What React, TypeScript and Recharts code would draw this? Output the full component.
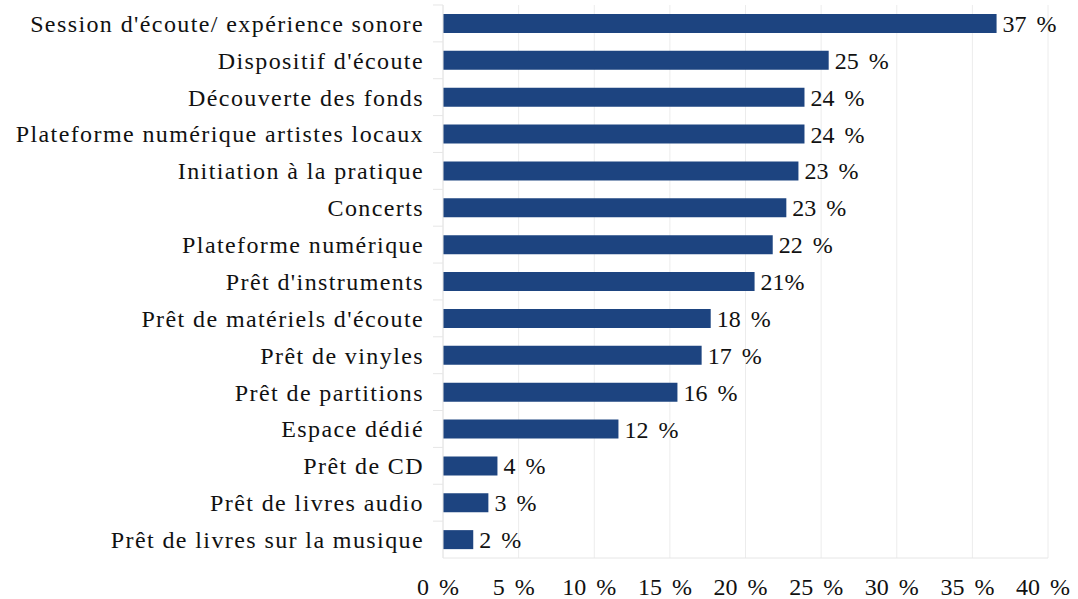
import { Bar, BarChart, CartesianGrid, LabelList, XAxis, YAxis } from "recharts";

const categories = [
  "Session d'écoute/ expérience sonore",
  "Dispositif d'écoute",
  "Découverte des fonds",
  "Plateforme numérique artistes locaux",
  "Initiation à la pratique",
  "Concerts",
  "Plateforme numérique",
  "Prêt d'instruments",
  "Prêt de matériels d'écoute",
  "Prêt de vinyles",
  "Prêt de partitions",
  "Espace dédié",
  "Prêt de CD",
  "Prêt de livres audio",
  "Prêt de livres sur la musique",
];

const shares = [36.6, 25.5, 23.9, 23.9, 23.5, 22.7, 21.8, 20.6, 17.7, 17.1, 15.5, 11.6, 3.6, 3.0, 2.0];

const shareLabels = ["37 %", "25 %", "24 %", "24 %", "23 %", "23 %", "22 %", "21%", "18 %", "17 %", "16 %", "12 %", "4 %", "3 %", "2 %"];

const xTicks = [0, 5, 10, 15, 20, 25, 30, 35, 40];

const data = categories.map((name, i) => ({ name, value: shares[i], label: shareLabels[i] }));

const FONT = "'Liberation Serif', 'Times New Roman', serif";

const CategoryTick = (props: any) => {
  const { x, y, payload } = props;
  const half = 36.87 / 2;
  return (
    <g>
      <line x1={x - 2} x2={x + 8} y1={y - half} y2={y - half} stroke="#e6e6e6" />
      <text x={x - 11} y={y} dy="0.35em" textAnchor="end" fontSize={24} fill="#111" fontFamily={FONT} letterSpacing={1.4}>
        {payload.value}
      </text>
    </g>
  );
};

const ValueTick = (props: any) => {
  const { x, y, payload } = props;
  return (
    <text x={x - 5} y={y} dy="1.2em" textAnchor="middle" fontSize={24} fill="#111" fontFamily={FONT} wordSpacing={4}>
      {`${payload.value} %`}
    </text>
  );
};

export default function App() {
  return (
    <div style={{ position: "absolute", left: 0, top: 0, background: "#fff" }}>
      <BarChart
        width={1078}
        height={599}
        data={data}
        layout="vertical"
        margin={{ top: 5, right: 30, bottom: 0, left: 0 }}
        barSize={19}
      >
        <CartesianGrid horizontal={false} stroke="#ececec" />
        <XAxis
          type="number"
          domain={[0, 40]}
          ticks={xTicks}
          height={41}
          axisLine={{ stroke: "#e6e6e6" }}
          tickLine={false}
          tick={<ValueTick />}
        />
        <YAxis
          type="category"
          dataKey="name"
          width={443}
          axisLine={{ stroke: "#e6e6e6" }}
          tickLine={false}
          tick={<CategoryTick />}
          interval={0}
        />
        <Bar dataKey="value" fill="#1d4480" isAnimationActive={false}>
          <LabelList
            dataKey="label"
            position="right"
            offset={6}
            style={{ fontSize: 24, fill: "#111", fontFamily: FONT, wordSpacing: 4 }}
          />
        </Bar>
      </BarChart>
    </div>
  );
}
